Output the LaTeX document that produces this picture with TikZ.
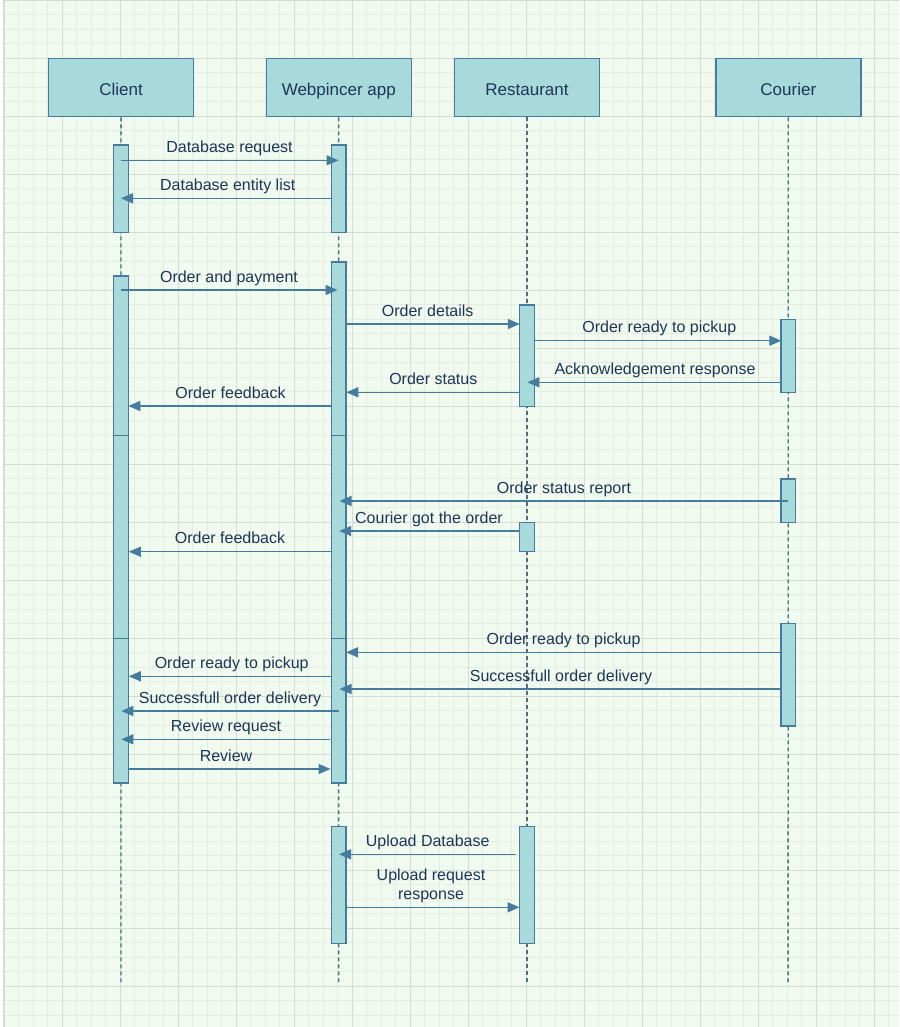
\documentclass[tikz,border=0pt]{standalone}
\usepackage{fontspec}
\setmainfont{Liberation Sans}
\usetikzlibrary{arrows.meta}
\definecolor{bgc}{HTML}{F1FAEE}
\definecolor{boxfill}{HTML}{A8DADC}
\definecolor{boxline}{HTML}{457B9D}
\definecolor{txt}{HTML}{1D3557}
\definecolor{gridminor}{HTML}{E4EDE2}
\definecolor{gridmajor}{HTML}{D3DDD3}
\definecolor{lifec}{HTML}{4F6E82}
\tikzset{
  header/.style={draw=boxline, fill=boxfill, line width=1.4pt, minimum width=145pt, minimum height=58.4pt, inner sep=0pt, text=txt, font=\fontsize{17}{20}\selectfont, text height=16.4pt, text depth=0pt},
  actbar/.style={draw=boxline, fill=boxfill, line width=1.4pt, minimum width=14.5pt, inner sep=0pt},
  lifeline/.style={draw=lifec, line width=1.3pt, dash pattern=on 4pt off 3pt},
  msg/.style={draw=boxline, line width=1.5pt, -{Triangle[length=12pt,width=10pt]}},
  lbl/.style={text=txt, font=\fontsize{16}{19}\selectfont, inner sep=0pt, anchor=base},
  gminor/.style={draw=gridminor, line width=0.6pt},
  gmajor/.style={draw=gridmajor, line width=0.8pt},
}
\begin{document}
\begin{tikzpicture}[x=1pt, y=-1pt]
\useasboundingbox (0,0) rectangle (899,1027);
% background and grid
\fill[bgc] (0,0) rectangle (899,1027);
\foreach \i in {0,...,62} {\draw[gminor] ({4+\i*14.5},0) -- ({4+\i*14.5},1027);}
\foreach \j in {0,...,71} {\draw[gminor] (4,{\j*14.5}) -- (899,{\j*14.5});}
\foreach \i in {0,...,15} {\draw[gmajor] ({4+\i*58},0) -- ({4+\i*58},1027);}
\foreach \j in {0,...,17} {\draw[gmajor] (4,{\j*58}) -- (899,{\j*58});}
\fill[white] (0,0) rectangle (3.5,1027);
\draw[draw=gridmajor, line width=0.8pt] (3.8,0) -- (3.8,1027);

% headers
\node[header] (client) at (121.1,87.5) {Client};
\node[header] (web) at (338.8,87.5) {Webpincer app};
\node[header] (rest) at (527,87.5) {Restaurant};
\node[header] (cour) at (788.3,87.5) {Courier};

% lifelines
\coordinate (clientend) at (121,982);
\coordinate (webend) at (338.6,982);
\coordinate (restend) at (527,982);
\coordinate (courend) at (788.1,982);
\draw[lifeline] (client.south) -- (clientend);
\draw[lifeline] (web.south) -- (webend);
\draw[lifeline] (rest.south) -- (restend);
\draw[lifeline] (cour.south) -- (courend);

% activation bars
\node[actbar, minimum height=87pt] (cb1) at (121,188.7) {};
\node[actbar, minimum height=87pt] (wb1) at (338.6,188.7) {};
\node[actbar, minimum height=159.5pt] (cb2a) at (121,355.75) {};
\node[actbar, minimum height=203pt] (cb2b) at (121,537) {};
\node[actbar, minimum height=144.5pt] (cb2c) at (121,710.75) {};
\node[actbar, minimum height=173.5pt] (wb2a) at (338.6,348.75) {};
\node[actbar, minimum height=203pt] (wb2b) at (338.6,537) {};
\node[actbar, minimum height=144.5pt] (wb2c) at (338.6,710.75) {};
\node[actbar, minimum height=101.5pt] (rb1) at (527,355.75) {};
\node[actbar, minimum height=72.8pt] (kb1) at (788.1,355.9) {};
\node[actbar, minimum height=43.7pt] (kb2) at (788.1,500.85) {};
\node[actbar, minimum height=29pt] (rb2) at (527,537.2) {};
\node[actbar, minimum height=102.3pt] (kb3) at (788.1,674.85) {};
\node[actbar, minimum height=116.6pt] (wb3) at (338.6,885) {};
\node[actbar, minimum height=116.6pt] (rb3) at (527,885) {};

% message end points
\coordinate (m1a) at (121,160.3);   \coordinate (m1b) at (338.5,160.3);
\coordinate (m2a) at (331.3,198.3); \coordinate (m2b) at (121,198.3);
\coordinate (m3a) at (121,290);     \coordinate (m3b) at (337.5,290);
\coordinate (m4a) at (345.9,324);   \coordinate (m4b) at (519.8,324);
\coordinate (m5a) at (534.3,340.7); \coordinate (m5b) at (781.3,340.7);
\coordinate (m6a) at (780.8,382.3); \coordinate (m6b) at (527.3,382.3);
\coordinate (m7a) at (519.8,392.3); \coordinate (m7b) at (346.3,392.3);
\coordinate (m8a) at (331.3,406);   \coordinate (m8b) at (128.3,406);
\coordinate (m9a) at (788,501);     \coordinate (m9b) at (339.5,501);
\coordinate (m10a) at (519.8,531);  \coordinate (m10b) at (339.2,531);
\coordinate (m11a) at (331.3,551.7); \coordinate (m11b) at (128.8,551.7);
\coordinate (m12a) at (780.8,652.3); \coordinate (m12b) at (346,652.3);
\coordinate (m13a) at (332.3,676.3); \coordinate (m13b) at (128.8,676.3);
\coordinate (m14a) at (782,689);    \coordinate (m14b) at (339.5,689);
\coordinate (m15a) at (338.7,711);  \coordinate (m15b) at (121.3,711);
\coordinate (m16a) at (330.3,739.3); \coordinate (m16b) at (121.3,739.3);
\coordinate (m17a) at (128.5,769);  \coordinate (m17b) at (330.5,769);
\coordinate (m18a) at (516,854.3);  \coordinate (m18b) at (339,854.3);
\coordinate (m19a) at (345.9,907.3); \coordinate (m19b) at (519.5,907.3);

% messages
\draw[msg] (m1a) -- (m1b);
\draw[msg] (m2a) -- (m2b);
\draw[msg] (m3a) -- (m3b);
\draw[msg] (m4a) -- (m4b);
\draw[msg] (m5a) -- (m5b);
\draw[msg] (m6a) -- (m6b);
\draw[msg] (m7a) -- (m7b);
\draw[msg] (m8a) -- (m8b);
\draw[msg] (m9a) -- (m9b);
\draw[msg] (m10a) -- (m10b);
\draw[msg] (m11a) -- (m11b);
\draw[msg] (m12a) -- (m12b);
\draw[msg] (m13a) -- (m13b);
\draw[msg] (m14a) -- (m14b);
\draw[msg] (m15a) -- (m15b);
\draw[msg] (m16a) -- (m16b);
\draw[msg] (m17a) -- (m17b);
\draw[msg] (m18a) -- (m18b);
\draw[msg] (m19a) -- (m19b);

% labels
\node[lbl] (l1) at (229.5,152.3) {Database request};
\node[lbl] (l2) at (227.7,190.3) {Database entity list};
\node[lbl] (l3) at (229,282) {Order and payment};
\node[lbl] (l4) at (427.7,316) {Order details};
\node[lbl] (l5) at (659.3,332.7) {Order ready to pickup};
\node[lbl] (l6) at (655,374.3) {Acknowledgement response};
\node[lbl] (l7) at (433.3,384.3) {Order status};
\node[lbl] (l8) at (230.5,398) {Order feedback};
\node[lbl] (l9) at (564,493) {Order status report};
\node[lbl] (l10) at (429,523.5) {Courier got the order};
\node[lbl] (l11) at (230,543.7) {Order feedback};
\node[lbl] (l12) at (563.5,644.3) {Order ready to pickup};
\node[lbl] (l13) at (231.7,668.3) {Order ready to pickup};
\node[lbl] (l14) at (561,681) {Successfull order delivery};
\node[lbl] (l15) at (230,703) {Successfull order delivery};
\node[lbl] (l16) at (226,731.3) {Review request};
\node[lbl] (l17) at (226,761) {Review};
\node[lbl] (l18) at (427.7,846.3) {Upload Database};
\node[text=txt, font=\fontsize{16}{19}\selectfont, inner sep=0pt, align=center] (l19) at (431,885.5) {Upload request\\response};
\end{tikzpicture}
\end{document}
